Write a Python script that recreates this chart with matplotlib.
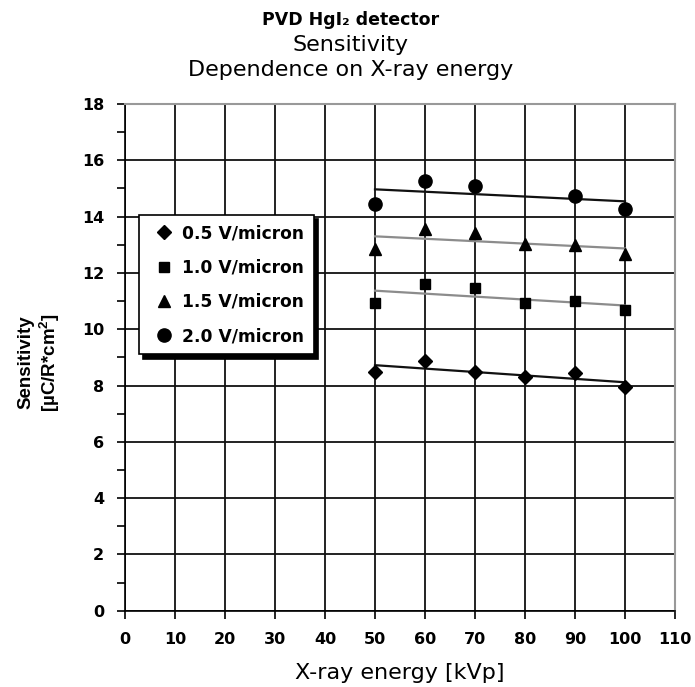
import numpy as np
import matplotlib
matplotlib.use('Agg')
import matplotlib.pyplot as plt

plt.rcParams['font.family'] = ['DejaVu Sans']
plt.rcParams['font.weight'] = 'bold'
plt.rcParams['mathtext.fontset'] = 'custom'
plt.rcParams['mathtext.rm'] = 'Liberation Sans:bold'
plt.rcParams['mathtext.it'] = 'Liberation Sans:bold'
plt.rcParams['mathtext.bf'] = 'Liberation Sans:bold'

# data
energy = [50, 60, 70, 80, 90, 100]
energy_2v = [50, 60, 70, 90, 100]          # no point at 80 kVp for 2.0 V/micron
sens_05 = [8.49, 8.88, 8.47, 8.29, 8.44, 7.94]
sens_10 = [10.94, 11.61, 11.48, 10.92, 11.00, 10.68]
sens_15 = [12.84, 13.57, 13.41, 13.03, 12.99, 12.66]
sens_20 = [14.45, 15.28, 15.10, 14.73, 14.26]

series = [
    ("0.5 V/micron", energy, sens_05, "D", 7.2, "#111111"),
    ("1.0 V/micron", energy, sens_10, "s", 7.8, "#8c8c8c"),
    ("1.5 V/micron", energy, sens_15, "^", 9.0, "#8c8c8c"),
    ("2.0 V/micron", energy_2v, sens_20, "o", 9.5, "#111111"),
]

fig = plt.figure(figsize=(6.95, 6.87), dpi=100)
ax = fig.add_axes([125 / 695, 1 - 610.7 / 687, 550 / 695, 506.7 / 687])

for label, x, y, marker, ms, fit_color in series:
    # linear trend line like the spreadsheet one
    k, b = np.polyfit(x, y, 1)
    xs = np.array([min(x), max(x)])
    ax.plot(xs, k * xs + b, color=fit_color, linewidth=1.6, zorder=3)
    ax.plot(x, y, linestyle="none", marker=marker, markersize=ms,
            color="black", label=label, zorder=4)

ax.set_xlim(0, 110)
ax.set_ylim(0, 18)
ax.set_xticks(np.arange(0, 111, 10))
ax.set_yticks(np.arange(0, 19, 2))
ax.set_yticks(np.arange(1, 18, 2), minor=True)
ax.tick_params(axis="both", which="both", direction="out", length=6, width=1.2,
               labelsize=11.5, pad=9)
ax.tick_params(axis="x", which="minor", length=0)
ax.grid(True, which="major", color="#111111", linewidth=1.3)

for side in ["left", "bottom"]:
    ax.spines[side].set_color("black")
    ax.spines[side].set_linewidth(1.2)
for side in ["top", "right"]:
    ax.spines[side].set_color("#999999")
    ax.spines[side].set_linewidth(1.5)

ax.set_xlabel("X-ray energy [kVp]", fontsize=16, fontweight="normal", labelpad=12)
ax.set_ylabel("Sensitivity\n[µC/R*cm$^{2}$]", fontsize=13.5, fontweight="bold",
              family="Liberation Sans", linespacing=1.15)
ax.yaxis.set_label_coords(-0.115, 0.49)

leg = ax.legend(loc="upper left", bbox_to_anchor=(0.025, 0.781), borderaxespad=0,
                fancybox=False, edgecolor="black", framealpha=1,
                shadow={"color": "black", "alpha": 1, "ox": 3, "oy": -3},
                prop={"size": 12.3, "weight": "bold"}, labelspacing=0.95,
                markerscale=1.0, handletextpad=0.2, borderpad=0.55,
                handlelength=1.8)
leg.get_frame().set_linewidth(1.2)

fig.text(0.505, 1 - 20 / 687, "PVD HgI₂ detector", ha="center", va="center",
         fontsize=12.5, fontweight="bold")
fig.text(0.505, 1 - 45 / 687, "Sensitivity", ha="center", va="center",
         fontsize=16, fontweight="normal")
fig.text(0.505, 1 - 70 / 687, "Dependence on X-ray energy", ha="center", va="center",
         fontsize=16, fontweight="normal")

fig.savefig("out.png", dpi=100)
